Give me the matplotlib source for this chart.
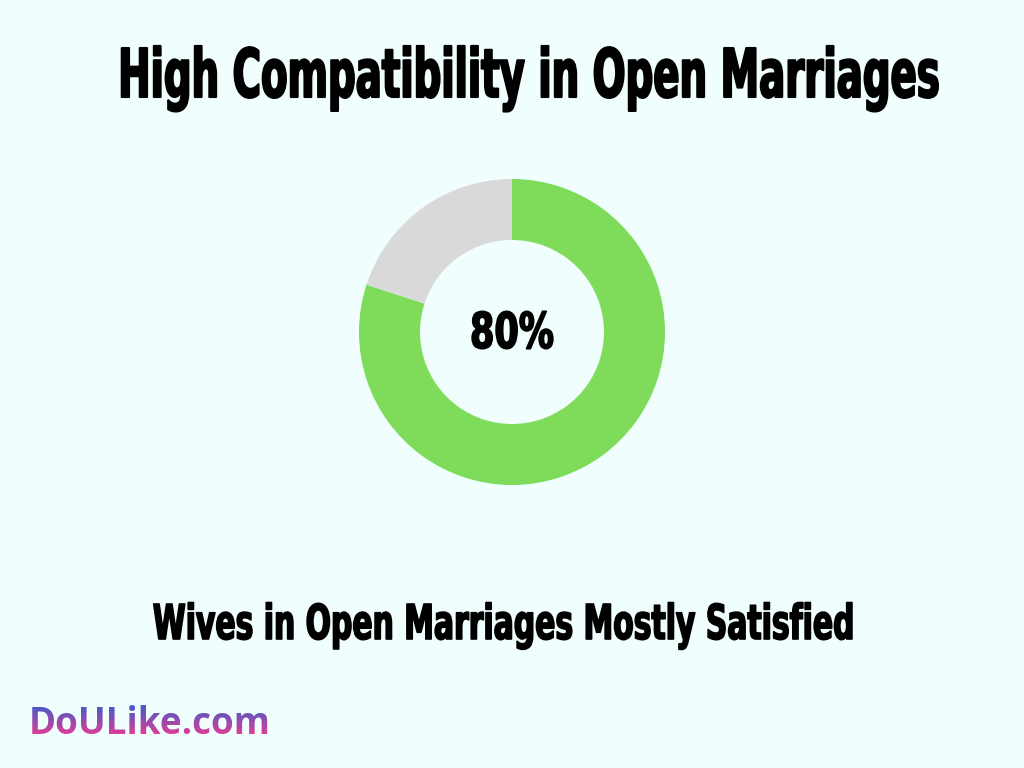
import matplotlib
matplotlib.use("Agg")
import matplotlib.pyplot as plt
from matplotlib.patheffects import AbstractPathEffect
from matplotlib.transforms import Bbox, Affine2D
import numpy as np

# Data
labels = ["Satisfied", "Other"]
values = [80, 20]
colors = ["#7FDB5A", "#D9D9D9"]
center_label = "80%"
title = "High Compatibility in Open Marriages"
subtitle = "Wives in Open Marriages Mostly Satisfied"
brand = "DoULike.com"

BG = "#F0FFFE"
W, H = 1024, 768
FAM = "DejaVu Sans"
CAP = 0.729  # DejaVu Sans Bold cap height (em)


class Stretch(AbstractPathEffect):
    """Scale glyphs about an anchor point (display px) and thicken slightly."""

    def __init__(self, sx, sy, anchor, lw=0.0):
        super().__init__()
        self.sx, self.sy, self.anchor, self.lw = sx, sy, anchor, lw

    def draw_path(self, renderer, gc, tpath, affine, rgbFace=None):
        ax_, ay_ = self.anchor
        aff = affine + Affine2D().translate(-ax_, -ay_).scale(self.sx, self.sy).translate(ax_, ay_)
        gc0 = renderer.new_gc()
        gc0.copy_properties(gc)
        if self.lw > 0:
            gc0.set_linewidth(self.lw)
            gc0.set_foreground(rgbFace)
        else:
            gc0.set_linewidth(0)
        renderer.draw_path(gc0, tpath, aff, rgbFace)
        gc0.restore()


fig = plt.figure(figsize=(W / 100, H / 100), dpi=100, facecolor=BG)
renderer = fig.canvas.get_renderer()


def fitted_text(xc, baseline_top, text, target_w, target_cap, lw=1.0):
    y = H - baseline_top
    t = fig.text(xc / W, y / H, text, ha="center", va="baseline", fontsize=20,
                 fontweight="bold", family=FAM, color="black")
    w = t.get_window_extent(renderer).width
    fs = 20 * target_w / w
    t.set_fontsize(fs)
    cap_px = fs * 100 / 72 * CAP
    sy = target_cap / cap_px
    t.set_path_effects([Stretch(1.0, sy, (xc, y), lw=lw)])
    return t


# Donut
cx, cy, R = 512, H - 332, 153
ax = fig.add_axes([(cx - R) / W, (cy - R) / H, 2 * R / W, 2 * R / H])
ax.set_facecolor(BG)
ax.pie(values, colors=colors, startangle=90, counterclock=False, radius=1.0,
       wedgeprops=dict(width=1 - 92 / 153, edgecolor="none"))
ax.set_xlim(-1, 1)
ax.set_ylim(-1, 1)
ax.set_aspect("equal")
ax.axis("off")

fitted_text(512, 348, center_label, 84, 36, lw=1.2)
fitted_text(529, 97, title, 822, 49, lw=1.5)
fitted_text(504, 639, subtitle, 702, 35, lw=1.2)

# Brand with vertical gradient via stacked clipped copies
top_c = np.array([0x3D, 0x5B, 0xC8]) / 255
bot_c = np.array([0xE4, 0x3C, 0x95]) / 255
y1, y0 = H - 704, H - 736
n = 24
for i in range(n):
    tt = i / (n - 1)
    col = top_c * (1 - tt) + bot_c * tt
    band_top = y1 - (y1 - y0) * i / n
    band_bot = y1 - (y1 - y0) * (i + 1) / n
    if i == 0:
        band_top = H
    if i == n - 1:
        band_bot = 0
    txt = fig.text(29 / W, (H - 734) / H, brand, ha="left", va="baseline", fontsize=26.5,
                   fontweight="bold", family="Open Sans", color=col)
    txt.set_clip_box(Bbox([[0, band_bot], [W, band_top]]))

fig.savefig("out.png", dpi=100, facecolor=BG)
